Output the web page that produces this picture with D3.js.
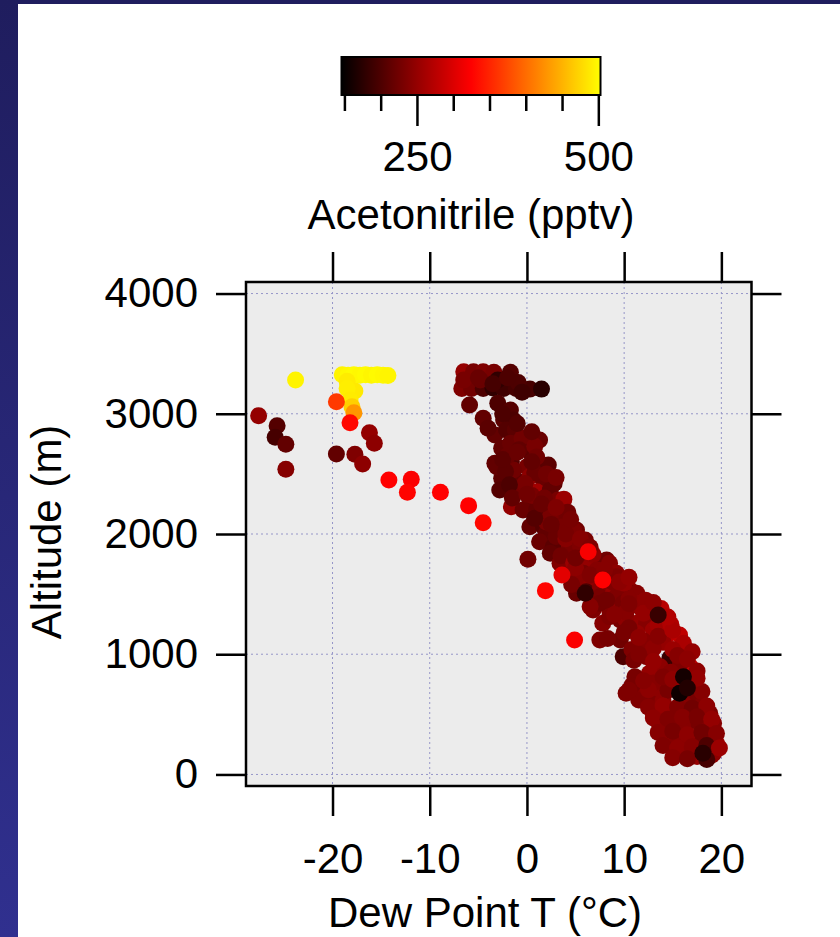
<!DOCTYPE html>
<html>
<head>
<meta charset="utf-8">
<script src="https://cdn.jsdelivr.net/npm/d3@7"></script>
<style>
  body { margin: 0; background: #1f1d5e; }
  svg { display: block; font-family: "Liberation Sans", Arial, sans-serif; }
</style>
</head>
<body>
<script>
// dew point (°C), altitude (m), acetonitrile (pptv)
const dewPoint = [
  -27.6, -25.7, -25.9, -24.8, -24.8, -23.8,
  -19.0, -18.4, -17.8, -17.2, -16.6, -16.0, -15.4, -14.8, -14.3,
  -18.5, -17.7, -18.5, -18.2, -18.0, -17.8, -19.6, -18.2,
  -16.2, -15.7, -19.6, -17.7, -16.9,
  -14.2, -11.9, -12.3, -8.9, -6.0, -4.5, 1.9, 4.9, 0.1, -1.6,
  -6.5, -5.5, -4.5, -3.4, -1.7, -6.7, -5.7, -4.5, -3.5, -2.4, -1.1, 0.3, 1.5,
  -4.8, -3.0, -0.9, -5.9, -4.5, -3.0, -1.7, -2.4, -1.4,
  -3.3, -2.1, -1.2, -2.6, -1.7, -0.5, 1.3, 0.3,
  -3.3, -1.6, 0.0, 1.3, 2.0, -2.6, -1.1, 0.3, 1.7, -3.1, -1.4, 2.2,
  -2.8, -0.7, 1.0, 2.4, 0.3, 2.4, 3.2, -0.4, 1.0, 1.7, 3.4, 2.4,
  0.3, 1.7, 3.7, 5.1, 4.8, 2.0, 1.3, 3.1, 2.7, 4.4, 4.4, 2.4,
  5.4, 7.2, 8.2, 3.4, 8.5, 6.5, 4.4, 5.8, 9.2, 9.2, 5.4, 6.5,
  6.1, 7.5, 10.6, 10.2, 5.1, 7.5, 8.9, 11.3, 9.2,
  6.8, 8.5, 9.9, 11.6, 7.5, 11.6, 6.5, 7.8, 9.6, 11.3, 12.3, 8.5, 10.2, 12.3,
  7.5, 9.6, 11.3, 13.0, 14.4, 15.7, 16.1, 9.9, 12.3, 14.7, 16.8, 13.7,
  11.3, 12.6, 10.2, 12.0, 13.7, 17.4, 13.0, 14.7, 16.4, 18.8, 19.2,
  14.7, 16.4, 18.1, 19.5, 15.1, 16.8, 19.2, 11.1, 12.6, 16.1, 18.8,
  -0.8, 0.8, -2.0, 1.0, -2.2, 0.8, -0.2, 2.8, -1.8, -1.5, 0.5, 1.8, 3.8,
  4.2, 2.0, 0.8, 3.0, 4.0, 6.0, 5.5, 3.5, 6.8, 4.8, 7.2, 5.0,
  8.8, 10.0, 4.6, 10.5, 8.2, 12.2, 10.2, 12.8, 13.8, 13.5, 14.8, 10.5,
  8.3, 12.0, 14.0, 10.8, 13.0, 15.0, 17.0, 11.0, 15.8, 14.8, 17.5,
  10.8, 13.0, 15.0, 17.2, 11.5, 14.0, 16.0, 18.0, 13.5, 15.5, 17.5,
  14.0, 16.0, 18.5, 15.5, 17.5, 17.5, 19.0,
  10.5, 12.5, 14.5, 18.0, 12.5, 14.0, 15.5, 17.0, 18.5,
  13.0, 14.5, 16.0, 17.5, 19.0, 13.5, 15.0, 16.5, 18.0, 19.5,
  14.0, 15.5, 17.0, 18.5, 19.8, 15.0, 16.5, 18.5,
  11.5, 13.0, 15.5, 16.5, 12.0, 14.0, 15.0, 17.5,
  10.0, 11.5, 13.5, 15.0, 9.0, 10.5, 12.0, 13.0, 14.5,
  5.0, 6.5, 8.0, 9.5, 10.5, 2.5, 4.0, 5.5, 6.5,
  0.0, 1.5, 3.0, 4.5, -2.5, -1.0, 0.5, 2.0, 3.0,
  -4.0, -2.5, -1.0, 0.5, -6.5, -5.0, -3.5, -2.0, -0.5,
  6.3, 3.6, 7.8, 6.0, 13.5, 16.1, 15.7, 16.5, 18.1
];
const altitude = [
  2984, 2901, 2804, 2746, 2538, 3281,
  3325, 3320, 3325, 3320, 3325, 3320, 3325, 3320, 3318,
  3270, 3190, 3211, 3114, 3058, 3009, 3100, 2926,
  2843, 2754, 2665, 2663, 2582,
  2449, 2455, 2347, 2347, 2236, 2094, 1529, 1118, 1790, 2227,
  3350, 3350, 3350, 3345, 3345, 3211, 3211, 3211, 3215, 3211, 3211, 3205, 3205,
  3281, 3281, 3260, 3073, 2962, 3087, 3031, 2948, 2948,
  2823, 2865, 2865, 2713, 2754, 2796, 2782, 2684,
  2588, 2601, 2560, 2588, 2560, 2463, 2449, 2477, 2449, 2560, 2532, 2573,
  2366, 2380, 2352, 2366, 2255, 2241, 2283, 2200, 2200, 2144, 2144, 2144,
  2061, 2061, 2061, 2033, 2033, 2006, 1936, 1923, 1894, 1894, 1867, 1840,
  1784, 1784, 1784, 1756, 1756, 1728, 1673, 1673, 1673, 1645, 1617, 1562,
  1520, 1534, 1534, 1534, 1507, 1479, 1507, 1507, 1479,
  1368, 1368, 1424, 1396, 1424, 1424, 1396, 1257, 1285, 1257, 1312, 1312, 1285, 1257,
  1118, 1118, 1174, 1202, 1160, 1160, 1091, 980, 980, 966, 896, 896,
  800, 842, 675, 675, 675, 647, 509, 536, 509, 509, 426,
  314, 343, 314, 259, 204, 176, 176, 813, 600, 204, 204,
  2700, 2730, 2650, 2640, 2520, 2510, 2420, 2420, 2410, 2300, 2320, 2300, 2290,
  2180, 2100, 2130, 1980, 1960, 1950, 1900, 1820, 1830, 1760, 1700, 1720,
  1600, 1590, 1580, 1460, 1450, 1450, 1350, 1360, 1380, 1240, 1250, 1220,
  1130, 1110, 1100, 1040, 1050, 1040, 1020, 950, 930, 850, 860,
  740, 760, 740, 770, 620, 610, 600, 580, 440, 450, 440,
  380, 400, 380, 270, 260, 150, 160,
  700, 705, 700, 690, 560, 570, 560, 550, 570,
  470, 460, 475, 480, 460, 350, 360, 330, 350, 340,
  240, 220, 230, 240, 220, 140, 130, 125,
  1000, 940, 990, 960, 780, 810, 790, 800,
  1180, 1140, 1150, 1200, 1330, 1420, 1340, 1430, 1310,
  1800, 1660, 1700, 1600, 1640, 2080, 2000, 1960, 1890,
  2330, 2250, 2220, 2120, 2620, 2680, 2600, 2500, 2470,
  2880, 3000, 2920, 2850, 3280, 3300, 3250, 3300, 3180,
  1853, 1659, 1617, 1507, 1326, 813, 675, 720, 176
];
const acetonitrile = [
  250, 205, 195, 215, 240, 495,
  495, 498, 500, 498, 500, 497, 500, 498, 496,
  490, 488, 492, 490, 470, 430, 365, 330,
  250, 245, 215, 235, 245,
  325, 322, 328, 325, 325, 330, 328, 322, 225, 250,
  250, 230, 235, 230, 205, 235, 225, 200, 180, 190, 195, 195, 175,
  220, 180, 200, 215, 215, 200, 205, 210, 200,
  215, 205, 210, 215, 220, 225, 220, 210,
  215, 205, 230, 215, 220, 210, 215, 245, 220, 215, 225, 210,
  205, 225, 260, 215, 215, 210, 230, 220, 215, 210, 225, 230,
  215, 205, 230, 225, 235, 215, 220, 235, 210, 240, 230, 215,
  235, 230, 225, 235, 240, 250, 240, 230, 245, 235, 240, 245,
  200, 240, 245, 230, 220, 230, 250, 240, 235,
  235, 245, 230, 250, 225, 245, 240, 240, 230, 250, 255, 235, 245, 240,
  235, 225, 250, 255, 275, 280, 265, 200, 235, 185, 285, 245,
  240, 250, 235, 240, 245, 230, 235, 240, 225, 235, 240,
  245, 235, 230, 260, 240, 235, 245, 230, 235, 240, 230,
  215, 230, 220, 225, 210, 220, 230, 215, 200, 215, 230, 225, 255,
  225, 230, 205, 220, 240, 230, 235, 225, 245, 255, 240, 245,
  235, 250, 230, 240, 225, 245, 240, 250, 275, 260, 270, 230,
  230, 240, 250, 235, 245, 255, 250, 230, 235, 240, 245,
  230, 240, 250, 240, 235, 245, 240, 235, 240, 235, 230,
  245, 240, 235, 240, 225, 250, 245,
  235, 245, 230, 240, 240, 250, 235, 225, 245,
  245, 235, 240, 230, 250, 240, 230, 245, 225, 240,
  235, 245, 240, 200, 255, 240, 230, 195,
  235, 250, 240, 245, 240, 235, 245, 250,
  230, 245, 240, 265, 240, 235, 250, 245, 270,
  225, 235, 240, 245, 250, 220, 230, 240, 235,
  225, 220, 235, 230, 210, 220, 215, 225, 230,
  210, 200, 205, 215, 230, 220, 195, 200, 190,
  320, 305, 325, 180, 185, 160, 155, 170, 175
];

const xTicks = [-20, -10, 0, 10, 20];
const yTicks = [0, 1000, 2000, 3000, 4000];
const cbTicks = [150, 200, 250, 300, 350, 400, 450, 500];
const cbMajor = [250, 500];

const W = 840, H = 937;
const svg = d3.select("body").append("svg").attr("width", W).attr("height", H);

// slide background
const defs = svg.append("defs");
const side = defs.append("linearGradient").attr("id", "side")
  .attr("x1", 0).attr("y1", 0).attr("x2", 0).attr("y2", 1);
side.append("stop").attr("offset", 0).attr("stop-color", "#1f1d5e");
side.append("stop").attr("offset", 1).attr("stop-color", "#30308f");
svg.append("rect").attr("width", W).attr("height", H).attr("fill", "#1f1d5e");
svg.append("rect").attr("x", 0).attr("y", 0).attr("width", 18).attr("height", H).attr("fill", "url(#side)");
svg.append("rect").attr("x", 18).attr("y", 4).attr("width", W - 18).attr("height", H - 4).attr("fill", "#fff");

const color = d3.scaleLinear().domain([146, 325, 503])
  .range(["#000000", "#ff0000", "#ffff00"]).clamp(true);

const x = d3.scaleLinear().domain([-28.9, 23.1]).range([246, 751.5]);
const y = d3.scaleLinear().domain([-96, 4096]).range([786, 282]);

// plot area
svg.append("rect")
  .attr("x", x.range()[0]).attr("y", y.range()[1])
  .attr("width", x.range()[1] - x.range()[0])
  .attr("height", y.range()[0] - y.range()[1])
  .attr("fill", "#ececec");

const grid = svg.append("g").attr("stroke", "#9696c8").attr("stroke-width", 1).attr("stroke-dasharray", "2,3");
grid.selectAll(".gx").data(xTicks).join("line")
  .attr("x1", d => x(d)).attr("x2", d => x(d))
  .attr("y1", y.range()[1]).attr("y2", y.range()[0]);
grid.selectAll(".gy").data(yTicks).join("line")
  .attr("y1", d => y(d)).attr("y2", d => y(d))
  .attr("x1", x.range()[0]).attr("x2", x.range()[1]);

const pts = dewPoint.map((d, i) => ({x: d, y: altitude[i], v: acetonitrile[i]}));
svg.append("g").selectAll("circle").data(pts).join("circle")
  .attr("cx", d => x(d.x)).attr("cy", d => y(d.y)).attr("r", 8.5)
  .attr("fill", d => color(d.v));

svg.append("rect")
  .attr("x", x.range()[0]).attr("y", y.range()[1])
  .attr("width", x.range()[1] - x.range()[0])
  .attr("height", y.range()[0] - y.range()[1])
  .attr("fill", "none").attr("stroke", "#000").attr("stroke-width", 2.5);

function styleAxis(g) {
  g.select(".domain").remove();
  g.selectAll(".tick line").attr("stroke", "#000").attr("stroke-width", 2.5);
  g.selectAll(".tick text").attr("fill", "#000").attr("font-size", 42)
    .attr("font-family", "Liberation Sans, Arial, sans-serif");
}

svg.append("g").attr("transform", `translate(${x.range()[0]},0)`)
  .call(d3.axisLeft(y).tickValues(yTicks).tickSize(30).tickPadding(18).tickFormat(d3.format("d")))
  .call(styleAxis);
svg.append("g").attr("transform", `translate(${x.range()[1]},0)`)
  .call(d3.axisRight(y).tickValues(yTicks).tickSize(30).tickFormat(""))
  .call(styleAxis);
svg.append("g").attr("transform", `translate(0,${y.range()[0]})`)
  .call(d3.axisBottom(x).tickValues(xTicks).tickSize(30).tickPadding(27).tickFormat(d => d < 0 ? "-" + Math.abs(d) : d))
  .call(styleAxis);
svg.append("g").attr("transform", `translate(0,${y.range()[1]})`)
  .call(d3.axisTop(x).tickValues(xTicks).tickSize(30).tickFormat(""))
  .call(styleAxis);

svg.append("text").attr("x", 485).attr("y", 927).attr("text-anchor", "middle")
  .attr("font-size", 42).text("Dew Point T (°C)");
svg.append("text").attr("transform", "translate(61,532) rotate(-90)").attr("text-anchor", "middle")
  .attr("font-size", 42).text("Altitude (m)");

// colour bar
const cb = d3.scaleLinear().domain([146, 503]).range([341.5, 600.5]);
const grad = defs.append("linearGradient").attr("id", "cbgrad");
d3.range(0, 1.0001, 0.05).forEach(t => {
  grad.append("stop").attr("offset", t)
    .attr("stop-color", color(cb.domain()[0] + t * (cb.domain()[1] - cb.domain()[0])));
});
svg.append("rect").attr("x", cb.range()[0]).attr("y", 57)
  .attr("width", cb.range()[1] - cb.range()[0]).attr("height", 38)
  .attr("fill", "url(#cbgrad)").attr("stroke", "#000").attr("stroke-width", 2);
svg.append("g").attr("transform", "translate(0,95)")
  .call(d3.axisBottom(cb).tickValues(cbTicks.filter(t => !cbMajor.includes(t))).tickSize(16).tickFormat(""))
  .call(styleAxis);
svg.append("g").attr("transform", "translate(0,95)")
  .call(d3.axisBottom(cb).tickValues(cbMajor).tickSize(31).tickPadding(15))
  .call(styleAxis);
svg.append("text").attr("x", 471).attr("y", 229).attr("text-anchor", "middle")
  .attr("font-size", 42).text("Acetonitrile (pptv)");
</script>
</body>
</html>
